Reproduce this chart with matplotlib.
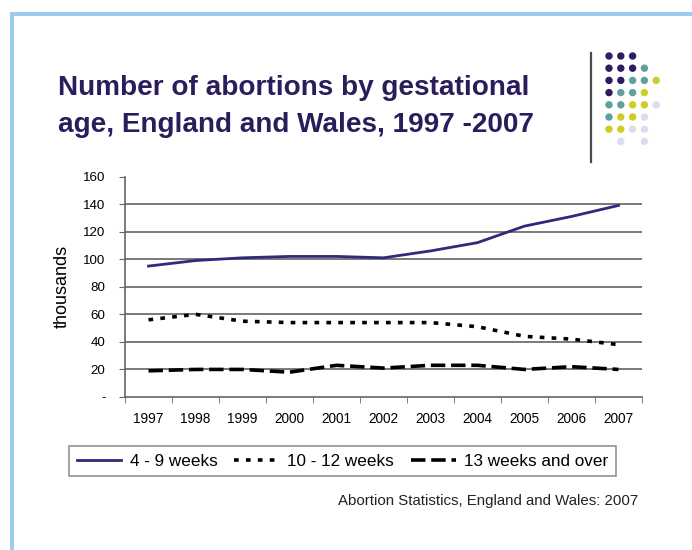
import matplotlib
matplotlib.use('Agg')
from matplotlib import pyplot as plt
from matplotlib.patches import Rectangle, Ellipse
from matplotlib.lines import Line2D
import numpy as np

years = ['1997', '1998', '1999', '2000', '2001', '2002', '2003', '2004', '2005', '2006', '2007']
weeks_4_9 = [95, 99, 101, 102, 102, 101, 106, 112, 124, 131, 139]
weeks_10_12 = [56, 60, 55, 54, 54, 54, 54, 51, 44, 42, 38]
weeks_13_over = [19, 20, 20, 18, 23, 21, 23, 23, 20, 22, 20]
series_names = ['4 - 9 weeks', '10 - 12 weeks', '13 weeks and over']
y_ticks = [0, 20, 40, 60, 80, 100, 120, 140, 160]
y_tick_labels = ['-', '20', '40', '60', '80', '100', '120', '140', '160']

# decorative dot grid (P purple, T teal, Y yellow, L lavender)
dot_rows = ['PPP', 'PPPT', 'PPTTY', 'PTTY', 'TTYYL', 'TYYL', 'YYLL', '.L.L']
dot_colors = {'P': '#2f1b63', 'T': '#62a09d', 'Y': '#cdcd25', 'L': '#dcdcf0'}

plt.rcParams['font.family'] = ['Liberation Sans', 'DejaVu Sans']

W, H = 692, 550
fig = plt.figure(figsize=(W / 100, H / 100), dpi=100)

# slide border
fig.add_artist(Rectangle((10 / W, 0), 4 / W, 1 - 12 / H, transform=fig.transFigure,
                         color='#9ccbee', lw=0))
fig.add_artist(Rectangle((10 / W, 1 - 16 / H), 1, 4 / H, transform=fig.transFigure,
                         color='#9ccbee', lw=0))

# title
fig.text(58 / W, 1 - 88 / H, 'Number of abortions by gestational', fontsize=20.1,
         fontweight='bold', color='#2b1d5c', va='center', ha='left')
fig.text(58 / W, 1 - 125 / H, 'age, England and Wales, 1997 -2007', fontsize=20.1,
         fontweight='bold', color='#2b1d5c', va='center', ha='left')

# vertical line + dots
fig.add_artist(Line2D([591 / W, 591 / W], [1 - 53 / H, 1 - 162 / H], transform=fig.transFigure,
                      color='#4a4a4a', lw=1.6))
for r, row in enumerate(dot_rows):
    for c, ch in enumerate(row):
        if ch == '.':
            continue
        x = 609 + c * 11.8
        y = 56 + r * 12.2
        fig.add_artist(Ellipse((x / W, 1 - y / H), 7.4 / W, 7.4 / H, transform=fig.transFigure,
                               color=dot_colors[ch], lw=0))

ax = fig.add_axes([125 / W, 1 - 397 / H, (642 - 125) / W, (397 - 176.5) / H])
x = np.arange(len(years))
ax.plot(x, weeks_4_9, color='#2e2a7c', lw=2, label=series_names[0])
ax.plot(x, weeks_10_12, color='black', lw=2.6, linestyle=(0, (1.3, 2.0)), label=series_names[1])
ax.plot(x, weeks_13_over, color='black', lw=2.6, linestyle=(0, (4.0, 1.6)), label=series_names[2])

ax.set_xlim(-0.5, len(years) - 0.5)
ax.set_ylim(0, 160)
ax.set_yticks(y_ticks)
ax.set_yticklabels(y_tick_labels, fontsize=9.6)
for yv in y_ticks[1:-1]:
    ax.axhline(yv, color='#6e6e6e', lw=1.3, zorder=0)

ax.set_xticks(x)
ax.set_xticklabels(years, fontsize=9.8)
ax.set_xticks(np.arange(len(years) + 1) - 0.5, minor=True)
ax.tick_params(axis='x', which='major', length=0, pad=11)
ax.tick_params(axis='x', which='minor', length=4, direction='out', color='#666666')
ax.tick_params(axis='y', length=4, direction='out', color='#666666', pad=10)
for s in ['top', 'right']:
    ax.spines[s].set_visible(False)
for s in ['left', 'bottom']:
    ax.spines[s].set_color('#666666')
    ax.spines[s].set_linewidth(1.2)
ax.set_ylabel('thousands', fontsize=13)
ax.yaxis.set_label_coords(-0.104, 0.5)

leg = fig.legend(loc='center', bbox_to_anchor=(342.5 / W, 1 - 461 / H), ncol=3, fontsize=12.3,
                 frameon=True, fancybox=False, edgecolor='#777777', handlelength=2.6,
                 columnspacing=1.0, handletextpad=0.5, borderpad=0.45)
leg.get_frame().set_linewidth(1.2)

fig.text(638 / W, 1 - 501 / H, 'Abortion Statistics, England and Wales: 2007', fontsize=10.8,
         ha='right', va='center', color='#222222')

fig.savefig('out.png', dpi=100)
